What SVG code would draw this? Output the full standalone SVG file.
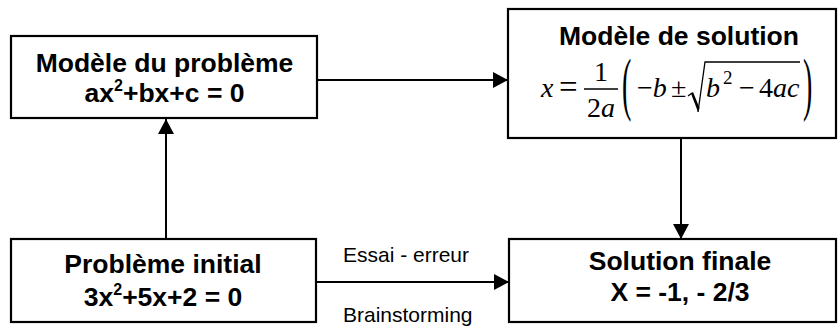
<svg xmlns="http://www.w3.org/2000/svg" width="838" height="327" viewBox="0 0 838 327">
<defs>
<marker id="ah" viewBox="0 0 15 16" refX="15" refY="8" markerWidth="15" markerHeight="16" markerUnits="userSpaceOnUse" orient="auto">
<path d="M0,0 L15,8 L0,16 Z" fill="#000"/>
</marker>
</defs>
<style>
.box{fill:#fff;stroke:#000;stroke-width:2.2}
.t{font-family:"Liberation Sans",Arial,sans-serif;font-weight:bold;font-size:26.5px;text-anchor:middle;fill:#000}
.sup{font-size:16px}
.lbl{font-family:"Liberation Sans",Arial,sans-serif;font-size:21px;fill:#000}
.m{font-family:"Liberation Serif","Times New Roman",serif;font-size:28px;fill:#000}
.i{font-style:italic}
.big{font-size:70px}
.ms{font-size:19px}
.eq{font-size:33px}
.c{stroke:#000;stroke-width:2;fill:none}
.r{stroke:#000;stroke-width:1.3;fill:none}
</style>
<rect width="838" height="327" fill="#fff"/>
<g id="connectors">
<line class="c" x1="317" y1="80" x2="508" y2="80" marker-end="url(#ah)"/>
<line class="c" x1="166" y1="239" x2="166" y2="119" marker-end="url(#ah)"/>
<line class="c" x1="317" y1="282" x2="509" y2="282" marker-end="url(#ah)"/>
<line class="c" x1="681" y1="138" x2="681" y2="239" marker-end="url(#ah)"/>
<text class="lbl" x="343" y="262">Essai - erreur</text>
<text class="lbl" x="343" y="322">Brainstorming</text>
</g>
<g id="modele-probleme">
<rect class="box" x="11" y="36" width="306" height="82"/>
<text class="t" x="164.5" y="72">Modèle du problème</text>
<text class="t" x="164.5" y="102">ax<tspan class="sup" dy="-11">2</tspan><tspan dy="11">+bx+c = 0</tspan></text>
</g>
<g id="modele-solution">
<rect class="box" x="508" y="9" width="328" height="129"/>
<text class="t" x="679" y="45">Modèle de solution</text>
<text class="m i" x="541" y="97">x</text>
<text class="m eq" x="559" y="97.5">=</text>
<line x1="584" y1="89" x2="618" y2="89" stroke="#000" stroke-width="1.3"/>
<text class="m" x="601" y="81" text-anchor="middle">1</text>
<text class="m" x="601" y="117" text-anchor="middle">2<tspan class="i">a</tspan></text>
<text class="m big" transform="translate(622,107) scale(0.4,1)">(</text>
<text class="m" x="637" y="97">−<tspan class="i">b</tspan></text>
<text class="m" x="671" y="97">±</text>
<line class="r" x1="688" y1="96" x2="692" y2="93"/>
<polygon points="691,93.5 693,92 699.5,108 698,112" fill="#000"/>
<polyline class="r" points="698,112 705,62 800,62"/>
<text class="m i" x="706" y="97">b</text>
<text class="m ms" x="723" y="84">2</text>
<text class="m" x="739" y="97">−</text>
<text class="m" x="759" y="97">4<tspan class="i">ac</tspan></text>
<text class="m big" transform="translate(803,107) scale(0.4,1)">)</text>
</g>
<g id="probleme-initial">
<rect class="box" x="11" y="239" width="305" height="83"/>
<text class="t" x="163" y="273">Problème initial</text>
<text class="t" x="163" y="306">3x<tspan class="sup" dy="-11">2</tspan><tspan dy="11">+5x+2 = 0</tspan></text>
</g>
<g id="solution-finale">
<rect class="box" x="509" y="239" width="327" height="83"/>
<text class="t" x="680" y="270">Solution finale</text>
<text class="t" x="680" y="301">X = -1, - 2/3</text>
</g>
</svg>
